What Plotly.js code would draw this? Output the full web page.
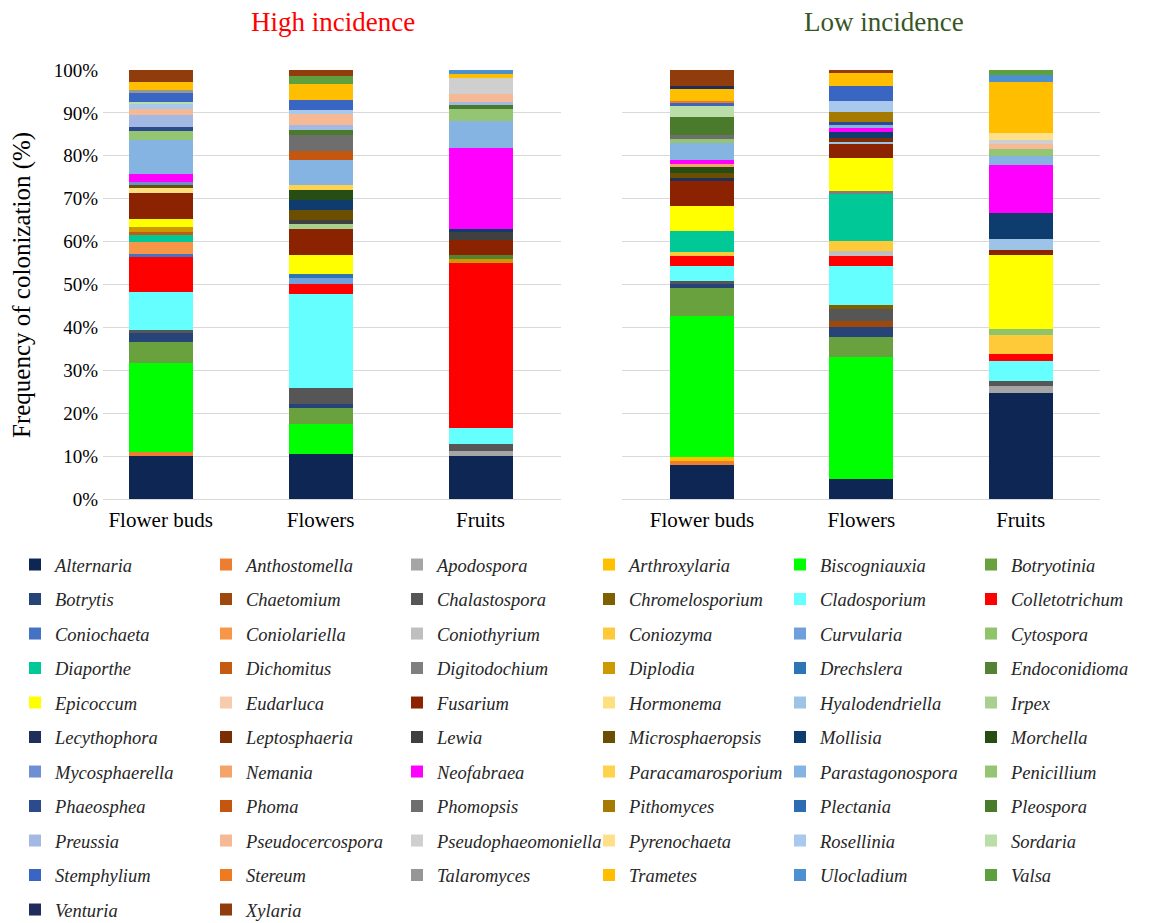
<!DOCTYPE html>
<html>
<head>
<meta charset="utf-8">
<script src="https://cdn.plot.ly/plotly-3.0.1.min.js"></script>
<style>html,body{margin:0;padding:0;background:#fff;}#chart{width:1160px;height:923px;}</style>
</head>
<body>
<div id="chart"></div>
<script>
// ---------------- DATA ----------------
const categories = ['Flower buds', 'Flowers', 'Fruits'];

const genera = [
  'Alternaria','Anthostomella','Apodospora','Arthroxylaria','Biscogniauxia','Botryotinia',
  'Botrytis','Chaetomium','Chalastospora','Chromelosporium','Cladosporium','Colletotrichum',
  'Coniochaeta','Coniolariella','Coniothyrium','Coniozyma','Curvularia','Cytospora',
  'Diaporthe','Dichomitus','Digitodochium','Diplodia','Drechslera','Endoconidioma',
  'Epicoccum','Eudarluca','Fusarium','Hormonema','Hyalodendriella','Irpex',
  'Lecythophora','Leptosphaeria','Lewia','Microsphaeropsis','Mollisia','Morchella',
  'Mycosphaerella','Nemania','Neofabraea','Paracamarosporium','Parastagonospora','Penicillium',
  'Phaeosphea','Phoma','Phomopsis','Pithomyces','Plectania','Pleospora',
  'Preussia','Pseudocercospora','Pseudophaeomoniella','Pyrenochaeta','Rosellinia','Sordaria',
  'Stemphylium','Stereum','Talaromyces','Trametes','Ulocladium','Valsa',
  'Venturia','Xylaria'
];

// Frequency of colonization (%) per genus (same order as genera)
const highFlowerBuds = [
  10.0, 0.9, 0, 0, 20.7, 5.1, 1.9, 0, 0.9, 0,
  8.8, 8.0, 0.7, 2.8, 0, 0, 0, 0, 1.7, 0.8,
  0, 1.2, 0, 0, 1.8, 0, 6.0, 1.1, 0, 0,
  0, 0, 0, 0.8, 0, 0, 0.8, 0, 1.7, 0,
  8.0, 2.1, 0.8, 0, 0, 0, 0, 0, 2.8, 1.5,
  0, 0, 1.1, 0.6, 2.0, 0, 0.7, 2.0, 0, 0,
  0, 2.7
];
const highFlowers = [
  10.6, 0, 0, 0, 7.0, 3.5, 1.0, 0, 3.7, 0,
  22.0, 2.3, 0, 0, 0, 0, 1.3, 0, 0, 0,
  0, 0, 1.0, 0, 4.5, 0, 6.0, 0, 0, 1.1,
  0, 0, 1.0, 2.4, 2.3, 2.3, 0, 0, 0, 1.2,
  5.8, 0, 0, 2.2, 3.6, 0, 0, 1.2, 1.2, 2.5,
  0, 0, 1.0, 0, 2.2, 0, 0, 3.8, 0, 2.0,
  0, 1.3
];
const highFruits = [
  10.0, 0, 1.1, 0, 0, 0, 0, 0, 1.7, 0,
  3.7, 38.4, 0, 0, 0, 0, 0, 0, 0, 0,
  0, 1.0, 0, 1.0, 0, 0, 3.5, 0, 0, 0,
  0, 0, 1.9, 0, 0.6, 0, 0, 0, 19.0, 0,
  6.2, 2.8, 0, 0, 0, 0, 0, 0.9, 0.8, 1.7,
  3.9, 0, 0, 0, 0, 0, 0, 0.8, 1.0, 0,
  0, 0
];
const lowFlowerBuds = [
  7.9, 1.0, 0, 0.8, 33.0, 6.4, 1.1, 0, 0.6, 0,
  3.4, 2.5, 0, 0, 0, 0.8, 0, 0, 5.0, 0,
  0, 0, 0, 0, 5.8, 0, 5.8, 0, 0, 0,
  0.8, 0, 0, 1.0, 0, 1.6, 0, 0.7, 0.8, 0,
  4.1, 0.8, 0, 0, 0.9, 0, 0, 4.3, 0, 0,
  0, 0, 0, 2.6, 0.8, 0.3, 0, 2.8, 0, 0,
  0.7, 3.7
];
const lowFlowers = [
  4.6, 0, 0, 0, 28.4, 4.8, 2.2, 1.6, 2.8, 0.8,
  9.2, 2.3, 0, 0, 1.2, 2.3, 0, 0, 11.0, 0,
  0.6, 0, 0, 0, 7.8, 0, 3.1, 0, 0.6, 0,
  0, 0.8, 0, 0, 1.5, 0, 0, 0, 0.8, 0,
  0.8, 0, 0.6, 0, 0, 2.3, 0, 0, 0, 0,
  0, 0, 2.7, 0, 3.5, 0, 0, 2.9, 0, 0,
  0, 0.8
];
const lowFruits = [
  24.8, 0, 1.5, 0, 0, 0, 0, 0, 1.1, 0,
  4.8, 1.6, 0, 0, 0, 4.4, 0, 1.4, 0, 0,
  0, 0, 0, 0, 17.3, 0, 1.1, 0, 2.6, 0,
  0, 0, 0, 0, 6.0, 0, 0, 0, 11.3, 0,
  2.1, 1.5, 0, 0, 0, 0, 0, 0, 0, 1.2,
  1.0, 1.5, 0, 0, 0, 0, 0, 12.1, 1.5, 1.2,
  0, 0
];

const yTickVals = [0, 10, 20, 30, 40, 50, 60, 70, 80, 90, 100];
const yTickText = ['0%','10%','20%','30%','40%','50%','60%','70%','80%','90%','100%'];

// ---------------- STYLE ----------------
const colors = [
  '#0E2654','#ED7D31','#A5A5A5','#FFC000','#00FF00','#6AA13F',
  '#264478','#9E480E','#565656','#7F6000','#66FFFF','#FF0000',
  '#4472C4','#F79646','#BFBFBF','#FFCA3A','#6FA0DC','#8FC46A',
  '#00C896','#C55A11','#7F7F7F','#CC9900','#2E75B6','#548235',
  '#FFFF00','#F8CBAD','#8B2300','#FFE080','#9DC3E6','#A9D18E',
  '#1F2F5A','#7B2E06','#404040','#6B4E00','#0F3C6E','#264D14',
  '#6E8FD3','#F4A46A','#FF00FF','#FFD24D','#86B4E2','#93C572',
  '#2C4A8E','#C4560F','#6E6E6E','#A57A00','#2E6DB3','#4A7A2C',
  '#A4B8E4','#F6B995','#CFCFCF','#FFE08A','#A9C9EC','#BBDDA8',
  '#3A66C3','#F07A22','#969696','#FFBF00','#4D90D0','#5EA03E',
  '#1E2D5C','#913C0C'
];

const FONT = 'Liberation Serif, Times New Roman, serif';
const W = 1160, H = 923;
const px = v => v / W;           // horizontal pixel -> paper
const py = v => (H - v) / H;     // vertical pixel (from top) -> paper

const traces = [];
genera.forEach((g, i) => {
  const col = i % 6;
  const legendId = col === 0 ? 'legend' : 'legend' + (col + 1);
  traces.push({
    type: 'bar', name: g, x: categories,
    y: [highFlowerBuds[i], highFlowers[i], highFruits[i]],
    xaxis: 'x', yaxis: 'y',
    marker: { color: colors[i], line: { width: 0 } },
    legend: legendId, legendgroup: g, showlegend: true,
    hovertemplate: g + ': %{y}%<extra>High incidence</extra>'
  });
  traces.push({
    type: 'bar', name: g, x: categories,
    y: [lowFlowerBuds[i], lowFlowers[i], lowFruits[i]],
    xaxis: 'x2', yaxis: 'y2',
    marker: { color: colors[i], line: { width: 0 } },
    legend: legendId, legendgroup: g, showlegend: false,
    hovertemplate: g + ': %{y}%<extra>Low incidence</extra>'
  });
});

const legendLefts = [15, 206, 397, 589, 780, 971];
const legendBase = {
  xref: 'paper', yref: 'paper', xanchor: 'left', yanchor: 'top',
  orientation: 'v', traceorder: 'grouped', tracegroupgap: 7.45,
  bgcolor: 'rgba(0,0,0,0)', borderwidth: 0,
  font: { family: FONT, size: 18.5, style: 'italic', color: '#262626' }
};

const gridColor = '#D9D9D9';
const xCommon = {
  type: 'category', showgrid: false, zeroline: false,
  showline: true, linecolor: gridColor, linewidth: 1.3,
  ticks: '', ticklabelstandoff: 2,
  tickfont: { family: FONT, size: 21, color: '#000' },
  fixedrange: true
};
const yCommon = {
  range: [0, 100], tickvals: yTickVals, ticktext: yTickText,
  showgrid: true, gridcolor: gridColor, gridwidth: 1.3,
  zeroline: false, showline: false, ticks: '', ticklabelstandoff: 4,
  tickfont: { family: FONT, size: 19, color: '#000' }, fixedrange: true
};

const layout = {
  width: W, height: H,
  margin: { l: 0, r: 0, t: 0, b: 0, autoexpand: false },
  paper_bgcolor: '#fff', plot_bgcolor: '#fff',
  barmode: 'stack', bargap: 0.6,
  showlegend: true,
  xaxis: Object.assign({}, xCommon, { domain: [px(103), px(560.5)], range: [-0.36, 2.5], anchor: 'y' }),
  yaxis: Object.assign({}, yCommon, { domain: [py(499), py(70)], anchor: 'x' }),
  xaxis2: Object.assign({}, xCommon, { domain: [px(622.4), px(1100.3)], range: [-0.5, 2.5], anchor: 'y2' }),
  yaxis2: Object.assign({}, yCommon, { domain: [py(499), py(70)], anchor: 'x2', showticklabels: false }),
  annotations: [
    { text: 'High incidence', x: px(333), y: py(22), xref: 'paper', yref: 'paper',
      showarrow: false, xanchor: 'center', yanchor: 'middle',
      font: { family: FONT, size: 27, color: '#FF0000' } },
    { text: 'Low incidence', x: px(884), y: py(22), xref: 'paper', yref: 'paper',
      showarrow: false, xanchor: 'center', yanchor: 'middle',
      font: { family: FONT, size: 27, color: '#375623' } },
    { text: 'Frequency of colonization (%)', x: px(22), y: py(285), xref: 'paper', yref: 'paper',
      showarrow: false, xanchor: 'center', yanchor: 'middle', textangle: -90,
      font: { family: FONT, size: 25, color: '#000' } }
  ]
};
legendLefts.forEach((lx, c) => {
  const key = c === 0 ? 'legend' : 'legend' + (c + 1);
  layout[key] = Object.assign({}, legendBase, { x: px(lx), y: py(546) });
});

Plotly.newPlot('chart', traces, layout, { displayModeBar: false, responsive: false });
</script>
</body>
</html>
